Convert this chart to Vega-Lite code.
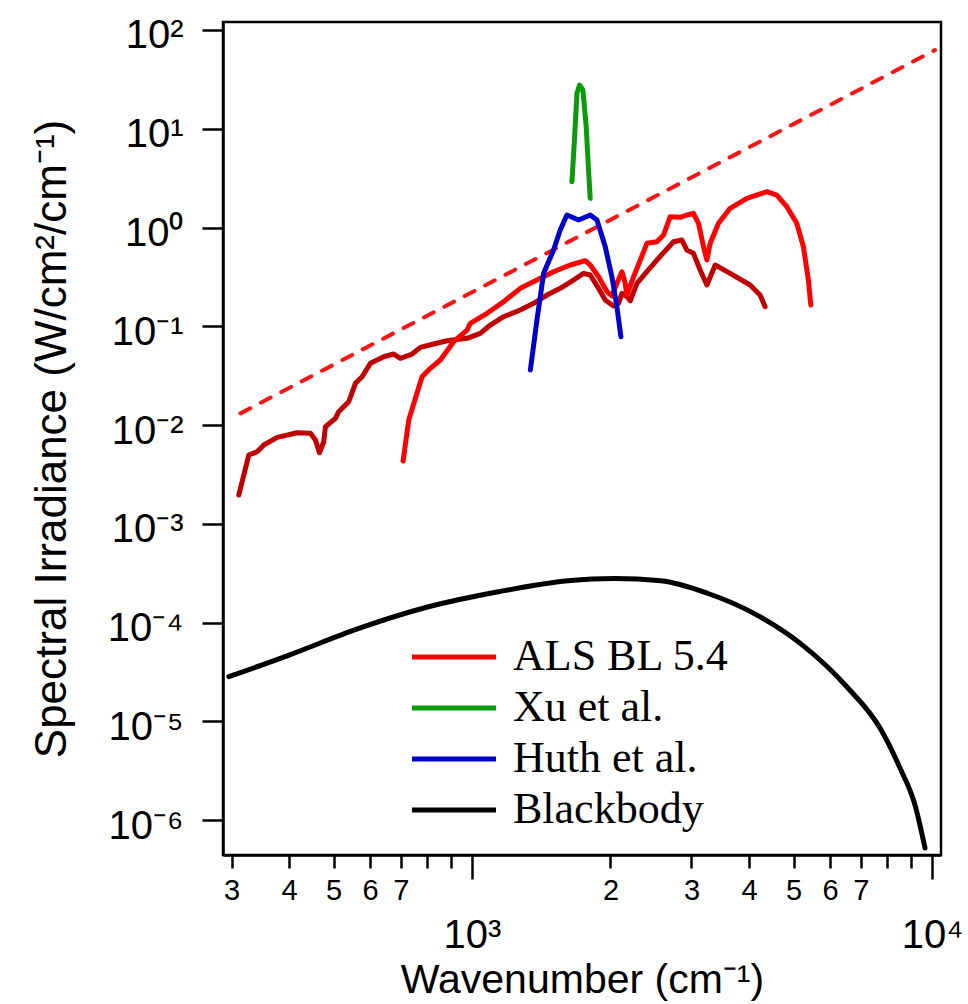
{
  "$schema": "https://vega.github.io/schema/vega-lite/v6.json",
  "width": 718,
  "height": 833,
  "autosize": {"type": "none"},
  "padding": {"left": 223, "top": 22, "right": 27, "bottom": 149},
  "background": "white",
  "config": {
    "view": {"stroke": "black", "strokeWidth": 2.5},
    "axis": {
      "grid": false,
      "domainColor": "black",
      "domainWidth": 2.5,
      "tickColor": "black",
      "tickWidth": 2.5,
      "labelColor": "black",
      "titleColor": "black",
      "labelFont": "Liberation Sans",
      "titleFont": "Liberation Sans",
      "titleFontWeight": "normal",
      "labelOverlap": false,
      "labelBound": false,
      "labelFlush": false
    }
  },
  "datasets": {
    "curves": [
      {"s": "ref", "x": 313.8, "y": 0.01313},
      {"s": "ref", "x": 10150, "y": 62.7},

      {"s": "ALS dark", "x": 311.1, "y": 0.001954},
      {"s": "ALS dark", "x": 327.1, "y": 0.004969},
      {"s": "ALS dark", "x": 341.1, "y": 0.005366},
      {"s": "ALS dark", "x": 352.6, "y": 0.006273},
      {"s": "ALS dark", "x": 377.1, "y": 0.007507},
      {"s": "ALS dark", "x": 416.7, "y": 0.008356},
      {"s": "ALS dark", "x": 445.4, "y": 0.00824},
      {"s": "ALS dark", "x": 456.7, "y": 0.007048},
      {"s": "ALS dark", "x": 465.9, "y": 0.005243},
      {"s": "ALS dark", "x": 476.0, "y": 0.006774},
      {"s": "ALS dark", "x": 480.1, "y": 0.009612},
      {"s": "ALS dark", "x": 504.7, "y": 0.01169},
      {"s": "ALS dark", "x": 513.1, "y": 0.01364},
      {"s": "ALS dark", "x": 539.4, "y": 0.01721},
      {"s": "ALS dark", "x": 557.8, "y": 0.02644},
      {"s": "ALS dark", "x": 576.8, "y": 0.03083},
      {"s": "ALS dark", "x": 601.3, "y": 0.04215},
      {"s": "ALS dark", "x": 642.7, "y": 0.04915},
      {"s": "ALS dark", "x": 675.6, "y": 0.05236},
      {"s": "ALS dark", "x": 698.6, "y": 0.04737},
      {"s": "ALS dark", "x": 740.8, "y": 0.05236},
      {"s": "ALS dark", "x": 772.1, "y": 0.06119},
      {"s": "ALS dark", "x": 825.0, "y": 0.06611},
      {"s": "ALS dark", "x": 882.5, "y": 0.07141},
      {"s": "ALS dark", "x": 975.2, "y": 0.07551},
      {"s": "ALS dark", "x": 1042, "y": 0.08484},
      {"s": "ALS dark", "x": 1096, "y": 0.103},
      {"s": "ALS dark", "x": 1171, "y": 0.1249},
      {"s": "ALS dark", "x": 1273, "y": 0.1461},
      {"s": "ALS dark", "x": 1361, "y": 0.1708},
      {"s": "ALS dark", "x": 1455, "y": 0.2072},
      {"s": "ALS dark", "x": 1555, "y": 0.2422},
      {"s": "ALS dark", "x": 1662, "y": 0.294},
      {"s": "ALS dark", "x": 1748, "y": 0.3438},
      {"s": "ALS dark", "x": 1807, "y": 0.3304},
      {"s": "ALS dark", "x": 1884, "y": 0.2422},
      {"s": "ALS dark", "x": 1948, "y": 0.1844},
      {"s": "ALS dark", "x": 2030, "y": 0.1604},
      {"s": "ALS dark", "x": 2082, "y": 0.1708},
      {"s": "ALS dark", "x": 2118, "y": 0.2157},
      {"s": "ALS dark", "x": 2171, "y": 0.1991},
      {"s": "ALS dark", "x": 2208, "y": 0.1814},
      {"s": "ALS dark", "x": 2283, "y": 0.2722},
      {"s": "ALS dark", "x": 2400, "y": 0.3568},
      {"s": "ALS dark", "x": 2523, "y": 0.4688},
      {"s": "ALS dark", "x": 2742, "y": 0.7181},
      {"s": "ALS dark", "x": 2859, "y": 0.7471},
      {"s": "ALS dark", "x": 2932, "y": 0.5918},
      {"s": "ALS dark", "x": 3029, "y": 0.5479},
      {"s": "ALS dark", "x": 3133, "y": 0.3712},
      {"s": "ALS dark", "x": 3240, "y": 0.2617},
      {"s": "ALS dark", "x": 3378, "y": 0.4173},
      {"s": "ALS dark", "x": 3640, "y": 0.3438},
      {"s": "ALS dark", "x": 4024, "y": 0.2617},
      {"s": "ALS dark", "x": 4229, "y": 0.2072},
      {"s": "ALS dark", "x": 4337, "y": 0.1578},

      {"s": "ALS BL 5.4", "x": 708.2, "y": 0.004319},
      {"s": "ALS BL 5.4", "x": 728.4, "y": 0.01123},
      {"s": "ALS BL 5.4", "x": 778.7, "y": 0.03083},
      {"s": "ALS BL 5.4", "x": 811.6, "y": 0.03751},
      {"s": "ALS BL 5.4", "x": 853.4, "y": 0.04551},
      {"s": "ALS BL 5.4", "x": 912.0, "y": 0.06975},
      {"s": "ALS BL 5.4", "x": 975.2, "y": 0.09162},
      {"s": "ALS BL 5.4", "x": 991.5, "y": 0.1071},
      {"s": "ALS BL 5.4", "x": 1078, "y": 0.1353},
      {"s": "ALS BL 5.4", "x": 1171, "y": 0.1772},
      {"s": "ALS BL 5.4", "x": 1273, "y": 0.2422},
      {"s": "ALS BL 5.4", "x": 1384, "y": 0.294},
      {"s": "ALS BL 5.4", "x": 1504, "y": 0.3568},
      {"s": "ALS BL 5.4", "x": 1635, "y": 0.4173},
      {"s": "ALS BL 5.4", "x": 1763, "y": 0.4612},
      {"s": "ALS BL 5.4", "x": 1807, "y": 0.4173},
      {"s": "ALS BL 5.4", "x": 1884, "y": 0.3176},
      {"s": "ALS BL 5.4", "x": 1965, "y": 0.2239},
      {"s": "ALS BL 5.4", "x": 2014, "y": 0.2024},
      {"s": "ALS BL 5.4", "x": 2065, "y": 0.2722},
      {"s": "ALS BL 5.4", "x": 2118, "y": 0.3568},
      {"s": "ALS BL 5.4", "x": 2153, "y": 0.2722},
      {"s": "ALS BL 5.4", "x": 2171, "y": 0.2072},
      {"s": "ALS BL 5.4", "x": 2245, "y": 0.3176},
      {"s": "ALS BL 5.4", "x": 2322, "y": 0.4688},
      {"s": "ALS BL 5.4", "x": 2400, "y": 0.6918},
      {"s": "ALS BL 5.4", "x": 2523, "y": 0.7181},
      {"s": "ALS BL 5.4", "x": 2608, "y": 0.8397},
      {"s": "ALS BL 5.4", "x": 2697, "y": 1.286},
      {"s": "ALS BL 5.4", "x": 2835, "y": 1.269},
      {"s": "ALS BL 5.4", "x": 2932, "y": 1.339},
      {"s": "ALS BL 5.4", "x": 3029, "y": 1.392},
      {"s": "ALS BL 5.4", "x": 3107, "y": 1.103},
      {"s": "ALS BL 5.4", "x": 3186, "y": 0.6391},
      {"s": "ALS BL 5.4", "x": 3240, "y": 0.4688},
      {"s": "ALS BL 5.4", "x": 3294, "y": 0.6918},
      {"s": "ALS BL 5.4", "x": 3434, "y": 1.103},
      {"s": "ALS BL 5.4", "x": 3640, "y": 1.565},
      {"s": "ALS BL 5.4", "x": 3958, "y": 1.976},
      {"s": "ALS BL 5.4", "x": 4374, "y": 2.304},
      {"s": "ALS BL 5.4", "x": 4598, "y": 2.134},
      {"s": "ALS BL 5.4", "x": 4834, "y": 1.624},
      {"s": "ALS BL 5.4", "x": 5082, "y": 1.103},
      {"s": "ALS BL 5.4", "x": 5253, "y": 0.6391},
      {"s": "ALS BL 5.4", "x": 5386, "y": 0.294},
      {"s": "ALS BL 5.4", "x": 5451, "y": 0.1641},

      {"s": "Huth et al.", "x": 1339, "y": 0.03606},
      {"s": "Huth et al.", "x": 1384, "y": 0.1157},
      {"s": "Huth et al.", "x": 1431, "y": 0.3438},
      {"s": "Huth et al.", "x": 1504, "y": 0.5918},
      {"s": "Huth et al.", "x": 1555, "y": 0.9434},
      {"s": "Huth et al.", "x": 1608, "y": 1.339},
      {"s": "Huth et al.", "x": 1705, "y": 1.191},
      {"s": "Huth et al.", "x": 1807, "y": 1.339},
      {"s": "Huth et al.", "x": 1869, "y": 1.191},
      {"s": "Huth et al.", "x": 1948, "y": 0.6391},
      {"s": "Huth et al.", "x": 2014, "y": 0.3176},
      {"s": "Huth et al.", "x": 2065, "y": 0.1578},
      {"s": "Huth et al.", "x": 2107, "y": 0.07837},

      {"s": "Xu et al.", "x": 1649, "y": 2.909},
      {"s": "Xu et al.", "x": 1668, "y": 7.123},
      {"s": "Xu et al.", "x": 1691, "y": 22.86},
      {"s": "Xu et al.", "x": 1713, "y": 27.73},
      {"s": "Xu et al.", "x": 1742, "y": 24.69},
      {"s": "Xu et al.", "x": 1771, "y": 10.49},
      {"s": "Xu et al.", "x": 1792, "y": 3.821},
      {"s": "Xu et al.", "x": 1807, "y": 1.976},

      {"s": "Blackbody", "x": 296, "y": 0.0000283},
      {"s": "Blackbody", "x": 400.4, "y": 0.0000469},
      {"s": "Blackbody", "x": 567.5, "y": 0.0000873},
      {"s": "Blackbody", "x": 804.5, "y": 0.0001445},
      {"s": "Blackbody", "x": 1140.5, "y": 0.000205},
      {"s": "Blackbody", "x": 1616.8, "y": 0.000265},
      {"s": "Blackbody", "x": 2040, "y": 0.00028},
      {"s": "Blackbody", "x": 2574, "y": 0.000265},
      {"s": "Blackbody", "x": 3248, "y": 0.000198},
      {"s": "Blackbody", "x": 4099, "y": 0.000124},
      {"s": "Blackbody", "x": 5172, "y": 0.0000615},
      {"s": "Blackbody", "x": 6527, "y": 0.0000224},
      {"s": "Blackbody", "x": 7709, "y": 0.00000854},
      {"s": "Blackbody", "x": 8520, "y": 0.00000336},
      {"s": "Blackbody", "x": 9185, "y": 0.000001418},
      {"s": "Blackbody", "x": 9656, "y": 0.000000521}
    ]
  },
  "data": {"name": "curves"},
  "encoding": {
    "x": {
      "field": "x",
      "type": "quantitative",
      "scale": {"type": "log", "domain": [287.5, 10460], "nice": false},
      "axis": {
        "values": [300, 400, 500, 600, 700, 800, 900, 1000, 2000, 3000, 4000, 5000, 6000, 7000, 8000, 9000, 10000],
        "labelExpr": "datum.value == 1000 ? '10³' : datum.value == 10000 ? '10⁴' : (datum.value < 1000 ? (datum.value <= 700 ? format(datum.value/100, 'd') : '') : (datum.value <= 7000 ? format(datum.value/1000, 'd') : ''))",
        "tickSize": {"condition": {"test": "datum.value == 1000 || datum.value == 10000", "value": 24}, "value": 13},
        "labelFontSize": {"condition": {"test": "datum.value == 1000 || datum.value == 10000", "value": 40}, "value": 29},
        "labelPadding": {"condition": {"test": "datum.value == 1000 || datum.value == 10000", "value": 36}, "value": 8},
        "title": "Wavenumber (cm⁻¹)",
        "titleFontSize": 41,
        "titlePadding": 5
      }
    },
    "y": {
      "field": "y",
      "type": "quantitative",
      "scale": {"type": "log", "domain": [4.43e-7, 120.5], "nice": false},
      "axis": {
        "values": [1e-6, 1e-5, 1e-4, 0.001, 0.01, 0.1, 1, 10, 100],
        "labelExpr": "'10' + ['⁻⁶','⁻⁵','⁻⁴','⁻³','⁻²','⁻¹','⁰','¹','²'][round(log(datum.value)/LN10)+6]",
        "labelFontSize": 40,
        "labelOffset": 6,
        "tickSize": 21,
        "labelPadding": 19,
        "title": "Spectral Irradiance (W/cm²/cm⁻¹)",
        "titleFontSize": 44,
        "titlePadding": 33
      }
    }
  },
  "layer": [
    {
      "transform": [{"filter": "datum.s === 'ref'"}],
      "mark": {"type": "line", "color": "#ff1414", "strokeWidth": 4, "strokeDash": [11, 12], "strokeCap": "round"}
    },
    {
      "transform": [{"filter": "datum.s === 'ALS dark'"}],
      "mark": {"type": "line", "color": "#c00000", "strokeWidth": 5, "strokeJoin": "round", "strokeCap": "round"}
    },
    {
      "transform": [{"filter": "indexof(['ALS BL 5.4','Huth et al.','Xu et al.'], datum.s) >= 0"}],
      "mark": {"type": "line", "strokeWidth": 5, "strokeJoin": "round", "strokeCap": "round"},
      "encoding": {
        "color": {
          "field": "s",
          "type": "nominal",
          "scale": {"domain": ["ALS BL 5.4", "Xu et al.", "Huth et al.", "Blackbody"], "range": ["#ff0000", "#0a9a0a", "#0000cc", "#000000"]},
          "legend": {"title": null, "orient": "none", "legendX": 209, "legendY": 613, "padding": 0, "labelFont": "Liberation Serif", "labelFontSize": 44, "labelColor": "black", "labelLimit": 500, "symbolType": "M-4,0H4", "symbolSize": 441, "symbolStrokeWidth": 5, "labelOffset": 37, "rowPadding": 7}
        }
      }
    },
    {
      "transform": [{"filter": "datum.s === 'Blackbody'"}],
      "mark": {"type": "line", "strokeWidth": 5, "interpolate": "monotone", "strokeCap": "round"},
      "encoding": {
        "color": {
          "field": "s",
          "type": "nominal",
          "scale": {"domain": ["ALS BL 5.4", "Xu et al.", "Huth et al.", "Blackbody"], "range": ["#ff0000", "#0a9a0a", "#0000cc", "#000000"]},
          "legend": {"title": null, "orient": "none", "legendX": 209, "legendY": 613, "padding": 0, "labelFont": "Liberation Serif", "labelFontSize": 44, "labelColor": "black", "labelLimit": 500, "symbolType": "M-4,0H4", "symbolSize": 441, "symbolStrokeWidth": 5, "labelOffset": 37, "rowPadding": 7}
        }
      }
    }
  ]
}
